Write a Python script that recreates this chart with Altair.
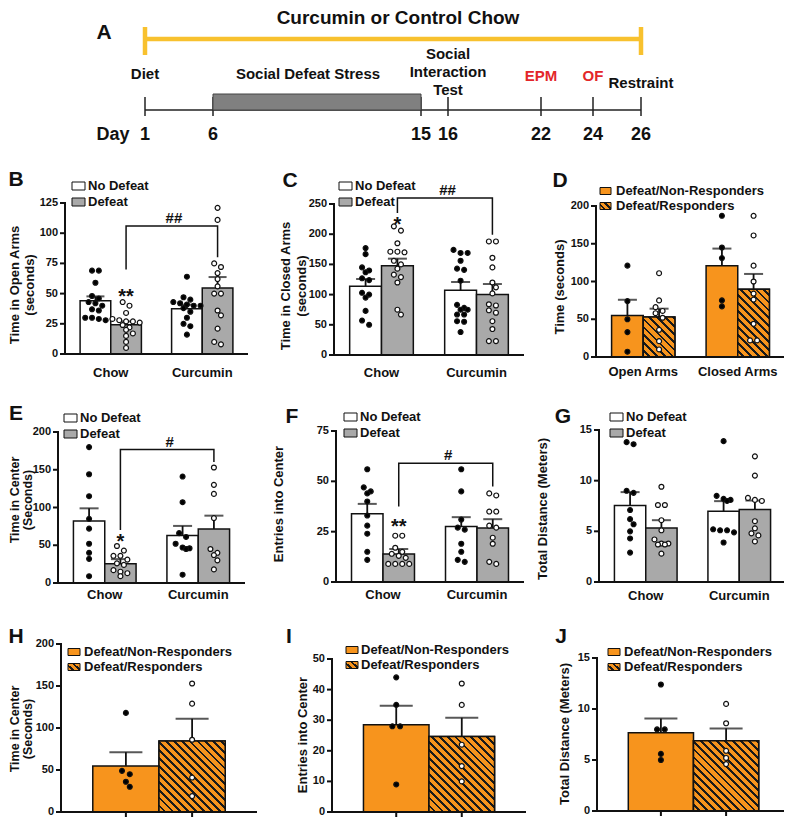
import math
import altair as alt
import pandas as pd

# ---------------------------------------------------------------- layout constants
M = 8                      # page margin: chart px = page px - M
CW, CH = 776, 810
FONT = "Liberation Sans"
INK = "#111111"
ORANGE = "#F7941D"
GREY = "#A9A9A9"
YELLOW = "#F8C12E"
RED = "#E3262A"


def P(v):
    return v - M


# ---------------------------------------------------------------- data
timeline_days = [1, 6, 15, 16, 22, 24, 26]
defeat_start, defeat_end = 6, 15
event_labels = [["Diet"], ["Social Defeat Stress"], ["Social", "Interaction", "Test"],
                ["EPM"], ["OF"], ["Restraint"]]
event_days = [1, 10.5, 16, 22, 24, 26]
event_red = [False, False, False, True, True, False]

diet_groups = ["Chow", "Curcumin"]
stress_groups = ["No Defeat", "Defeat"]
resp_groups = ["Defeat/Non-Responders", "Defeat/Responders"]
arm_groups = ["Open Arms", "Closed Arms"]

# order of series in every grouped panel: group-major (Chow/NoDefeat, Chow/Defeat, Curcumin/NoDefeat, Curcumin/Defeat)
b_means = [44.1, 24.3, 37.5, 54.6]
b_sems = [3.6, 2.7, 3.3, 9.1]
b_pts = [
    [69, 69, 59, 48, 46, 43, 42, 40, 37, 36, 30, 30, 29, 28],
    [43, 40, 34, 29, 28, 27, 27, 26, 24, 22, 20, 17, 15, 10, 5],
    [64, 47, 45, 43, 42, 41, 40, 40, 38, 35, 30, 25, 23, 16],
    [121, 111, 75, 72, 67, 62, 56, 50, 50, 36, 32, 21, 10, 8],
]
c_means = [113.7, 147.9, 107.0, 100.0]
c_sems = [12.1, 11.6, 13.9, 17.5]
c_pts = [
    [177, 167, 145, 140, 137, 127, 124, 103, 100, 95, 73, 57, 50],
    [213, 206, 185, 171, 171, 170, 156, 150, 143, 133, 129, 120, 75, 67],
    [174, 169, 169, 156, 143, 141, 123, 83, 78, 75, 75, 67, 67, 56, 55, 38],
    [188, 188, 161, 145, 120, 112, 102, 84, 82, 74, 70, 56, 43, 23, 23],
]
d_means = [55.0, 52.9, 120.7, 89.9]      # Open/NonResp, Open/Resp, Closed/NonResp, Closed/Resp
d_sems = [20.8, 11.1, 22.9, 20.1]
d_pts = [
    [121, 74, 50, 33, 7],
    [111, 75, 66, 61, 58, 52, 36, 21, 10],
    [187, 145, 131, 75, 67],
    [187, 161, 121, 100, 84, 76, 44, 22, 22],
]
e_means = [82.2, 25.5, 62.9, 71.6]
e_sems = [16.7, 6.1, 12.7, 17.6]
e_pts = [
    [180, 144, 115, 85, 72, 52, 40, 32, 9],
    [49, 43, 36, 36, 31, 26, 24, 17, 15, 13, 9],
    [141, 107, 66, 61, 52, 47, 46, 45, 11],
    [153, 130, 118, 86, 45, 40, 37, 30, 18],
]
f_means = [33.9, 13.9, 27.6, 26.8]
f_sems = [4.9, 2.5, 4.6, 4.4]
f_pts = [
    [56, 47, 45, 44, 40, 33, 28, 24, 15, 11],
    [23, 23, 17, 15, 14, 13, 12, 9, 9, 9, 9],
    [56, 45, 31, 27, 26, 19, 15, 11, 10],
    [44, 43, 35, 35, 28, 27, 22, 19, 10, 9],
]
g_means = [7.55, 5.34, 6.99, 7.15]
g_sems = [1.32, 0.76, 0.99, 0.89]
g_pts = [
    [13.8, 13.6, 9.0, 8.8, 7.1, 6.2, 5.7, 5.0, 4.3, 2.9],
    [9.4, 7.6, 7.6, 6.1, 5.1, 4.2, 3.8, 3.8, 3.7, 3.7, 2.8],
    [13.9, 8.5, 8.2, 8.1, 8.0, 5.2, 5.1, 5.1, 4.9, 3.9],
    [12.4, 10.5, 8.3, 8.1, 8.0, 6.0, 5.3, 4.8, 4.6, 4.0],
]
h_means = [54.9, 84.6]
h_sems = [16.3, 26.4]
h_pts = [[118, 49, 45, 36, 30], [153, 129, 86, 41, 19]]
i_means = [28.5, 24.7]
i_sems = [6.2, 6.1]
i_pts = [[44, 35, 28, 28, 9], [42, 35, 22, 15, 10]]
j_means = [7.67, 6.88]
j_sems = [1.39, 1.22]
j_pts = [[12.4, 8.0, 8.0, 5.6, 5.0], [10.5, 8.6, 5.9, 5.2, 4.6]]

ONE = pd.DataFrame({"z": [0]})


# ---------------------------------------------------------------- helpers
def hatch(W, H, period=5.6, line=2.0, base=ORANGE, ink="#1a1a1a"):
    """45-degree stripes as a linear gradient in bounding-box units."""
    r = H / W
    s = (1 + r) / (1 + r * r)
    L = (W + H) / math.sqrt(2)
    stops = []
    pos = 0.0
    while pos < L - 1e-6:
        a = pos / L
        b = min((pos + period - line) / L, 1.0)
        c = min((pos + period) / L, 1.0)
        stops += [{"offset": round(a, 4), "color": base}, {"offset": round(b, 4), "color": base}]
        if b < 1.0:
            stops += [{"offset": round(b, 4), "color": ink}, {"offset": round(c, 4), "color": ink}]
        pos += period
    return {"gradient": "linear", "x1": 0, "y1": 1, "x2": round(s, 4), "y2": round(1 - s * r, 4),
            "stops": stops}


def swarm(vals, ppu, lim, d=5.5):
    order = sorted(range(len(vals)), key=lambda i: -vals[i])
    rows = []
    for i in order:
        y = vals[i] * ppu
        if rows and rows[-1][0] - y < d * 0.85 and len(rows[-1][1]) < 5:
            rows[-1][1].append(i)
        else:
            rows.append([y, [i]])
    out = [0] * len(vals)
    prev = None
    for y, idx in rows:
        n = len(idx)
        par = (n - 1) % 2
        shift = 0
        if prev is not None and prev[0] - y < d and prev[1] == par and n < 5:
            shift = 1
            par ^= 1
        for k, i in enumerate(idx):
            out[i] = max(-lim, min(lim, 2 * k - (n - 1) + shift))
        prev = (y, par)
    return out


def label(txt, x, y, size, color=INK, align="center", baseline="middle", angle=0, lh=None):
    kw = dict(text=txt, font=FONT, fontSize=size, fontWeight="bold", color=color,
              align=align, baseline=baseline)
    if angle:
        kw["angle"] = angle
    if lh:
        kw["lineHeight"] = lh
    return alt.Chart(ONE).mark_text(**kw).encode(x=alt.value(P(x)), y=alt.value(P(y)))


def legend(items, sq_x, w, h, ys, tx):
    out = []
    for (name, fill), y in zip(items, ys):
        out.append(alt.Chart(ONE).mark_rect(fill=fill, stroke=INK, strokeWidth=1).encode(
            x=alt.value(P(sq_x)), x2=alt.value(P(sq_x + w)),
            y=alt.value(P(y - h / 2)), y2=alt.value(P(y + h / 2))))
        out.append(label(name, tx, y, 13, align="left"))
    return out


def axis_layers(x0, x1, y0, yt, ys, yticks):
    """Axis lines, y ticks and y tick labels drawn through the panel's y scale."""
    tdf = pd.DataFrame({"t": yticks, "lab": [str(t) for t in yticks]})
    return [
        alt.Chart(ONE).mark_rule(color=INK, strokeWidth=2).encode(
            x=alt.value(x0), y=alt.value(y0 + 1), y2=alt.value(yt - 1)),
        alt.Chart(ONE).mark_rule(color=INK, strokeWidth=2).encode(
            x=alt.value(x0 - 1), x2=alt.value(x1), y=alt.value(y0)),
        alt.Chart(tdf).mark_rule(color=INK, strokeWidth=2).encode(
            x=alt.value(x0 - 5), x2=alt.value(x0), y=alt.Y("t:Q", scale=ys, axis=None)),
        alt.Chart(tdf).mark_text(font=FONT, fontSize=11, fontWeight="bold", color=INK, align="right",
                                 baseline="middle").encode(
            x=alt.value(x0 - 7), y=alt.Y("t:Q", scale=ys, axis=None), text="lab:N"),
    ]


def grouped_panel(groups, subs, means, sems, pts, bar_fills, pt_fills, hatch_sub, ymax, yticks, box,
                  lab_dy, stars=(), bracket=None, pi=0.33, po=0.165):
    x0, x1, y0, yt = P(box[0]), P(box[1]), P(box[2]), P(box[3])
    ng, ns = len(groups), len(subs)
    step = (x1 - x0) / (ng - pi + 2 * po)
    barw = step * (1 - pi) / ns
    ppu = (y0 - yt) / ymax
    xs = alt.Scale(domain=groups, range=[x0, x1], paddingInner=pi, paddingOuter=po)
    ys = alt.Scale(domain=[0, ymax], range=[y0, yt], nice=False, zero=False)
    offs = alt.Scale(domain=subs, paddingInner=0, paddingOuter=0)

    def X():
        return alt.X("g:N", scale=xs, axis=None)

    def Y(f):
        return alt.Y(f, scale=ys, axis=None, stack=None)

    XO = alt.XOffset("s:N", scale=offs)
    rows = []
    for gi, g in enumerate(groups):
        for si, s in enumerate(subs):
            k = gi * ns + si
            rows.append(dict(g=g, s=s, v=means[k], top=round(means[k] + sems[k], 3), f=bar_fills[si]))
    bdf = pd.DataFrame(rows)
    layers = [alt.Chart(bdf).mark_bar(stroke=INK, strokeWidth=1.5).encode(
        x=X(), xOffset=XO, y=Y("v:Q"), fill=alt.Fill("f:N", scale=None))]
    for r in rows:
        if r["s"] == hatch_sub:
            layers.append(alt.Chart(pd.DataFrame([r])).mark_bar(
                fill=hatch(barw, r["v"] * ppu), stroke=INK, strokeWidth=1.5).encode(
                x=X(), xOffset=XO, y=Y("v:Q")))
    layers += axis_layers(x0, x1, y0, yt, ys, yticks)
    layers.append(alt.Chart(pd.DataFrame({"g": groups})).mark_text(
        font=FONT, fontSize=13, fontWeight="bold", color=INK, baseline="middle").encode(
        x=X(), y=alt.value(y0 + lab_dy), text="g:N"))
    layers.append(alt.Chart(bdf).mark_rule(color=INK, strokeWidth=1.8).encode(
        x=X(), xOffset=XO, y=Y("v:Q"), y2="top:Q"))
    layers.append(alt.Chart(bdf).mark_tick(color=INK, thickness=2, size=round(0.6 * barw),
                                           orient="horizontal").encode(
        x=X(), xOffset=XO, y=Y("top:Q")))
    if stars:
        sdf = pd.DataFrame([dict(g=g, s=s, v=v, t=t) for g, s, v, t in stars])
        layers.append(alt.Chart(sdf).mark_text(font=FONT, fontSize=20, fontWeight="bold", color=INK,
                                               baseline="alphabetic", dy=11).encode(
            x=X(), xOffset=XO, y=Y("v:Q"), text="t:N"))
    if bracket:
        lb, top, rb, txt = bracket
        brdf = pd.DataFrame(dict(g=[groups[0], groups[0], groups[1], groups[1]], s=[subs[1]] * 4,
                                 v=[lb, top, top, rb], k=[0, 1, 2, 3]))
        layers.append(alt.Chart(brdf).mark_line(color=INK, strokeWidth=1.5).encode(
            x=X(), xOffset=XO, y=Y("v:Q"), order="k:Q"))
        hdf = pd.DataFrame(dict(g=[groups[1]], s=[subs[0]], v=[top], t=[txt]))
        layers.append(alt.Chart(hdf).mark_text(font=FONT, fontSize=15, fontWeight="bold", color=INK,
                                               baseline="alphabetic", dy=-3, dx=-13).encode(
            x=X(), xOffset=XO, y=Y("v:Q"), text="t:N"))
    keys = [f"{s}|{k}" for s in subs for k in range(-4, 5)]
    prow = []
    for gi, g in enumerate(groups):
        for si, s in enumerate(subs):
            vals = pts[gi * ns + si]
            for v, o in zip(vals, swarm(vals, ppu, 4)):
                prow.append(dict(g=g, v=v, key=f"{s}|{o}", pf=pt_fills[si]))
    pdf = pd.DataFrame(prow)
    pts_layer = alt.Chart(pdf).mark_point(shape="circle", filled=True, size=24, stroke=INK,
                                          strokeWidth=1.2, opacity=1).encode(
        x=X(), xOffset=alt.XOffset("key:N", scale=alt.Scale(type="point", domain=keys, padding=0.5)),
        y=Y("v:Q"), fill=alt.Fill("pf:N", scale=None))
    return alt.layer(alt.layer(*layers), pts_layer).resolve_scale(xOffset="independent")


def single_panel(subs, means, sems, pts, bar_fills, pt_fills, hatch_sub, ymax, yticks, box, po=0.48):
    x0, x1, y0, yt = P(box[0]), P(box[1]), P(box[2]), P(box[3])
    n = len(subs)
    barw = (x1 - x0) / (n + 2 * po)
    ppu = (y0 - yt) / ymax
    xs = alt.Scale(domain=subs, range=[x0, x1], paddingInner=0, paddingOuter=po)
    ys = alt.Scale(domain=[0, ymax], range=[y0, yt], nice=False, zero=False)

    def X():
        return alt.X("s:N", scale=xs, axis=None)

    def Y(f):
        return alt.Y(f, scale=ys, axis=None, stack=None)

    rows = [dict(s=s, v=means[i], top=round(means[i] + sems[i], 3), f=bar_fills[i])
            for i, s in enumerate(subs)]
    bdf = pd.DataFrame(rows)
    layers = [alt.Chart(bdf).mark_bar(stroke=INK, strokeWidth=1.5).encode(
        x=X(), y=Y("v:Q"), fill=alt.Fill("f:N", scale=None))]
    for r in rows:
        if r["s"] == hatch_sub:
            layers.append(alt.Chart(pd.DataFrame([r])).mark_bar(
                fill=hatch(barw, r["v"] * ppu), stroke=INK, strokeWidth=1.5).encode(x=X(), y=Y("v:Q")))
    layers += axis_layers(x0, x1, y0, yt, ys, yticks)
    layers.append(alt.Chart(pd.DataFrame({"s": subs})).mark_rule(color=INK, strokeWidth=2).encode(
        x=X(), y=alt.value(y0), y2=alt.value(y0 + 5)))
    layers.append(alt.Chart(bdf).mark_rule(color=INK, strokeWidth=1.8).encode(
        x=X(), y=Y("v:Q"), y2="top:Q"))
    layers.append(alt.Chart(bdf).mark_tick(color=INK, thickness=2, size=round(0.5 * barw),
                                           orient="horizontal").encode(x=X(), y=Y("top:Q")))
    keys = [str(k) for k in range(-8, 9)]
    prow = []
    for i, s in enumerate(subs):
        for v, o in zip(pts[i], swarm(pts[i], ppu, 8)):
            prow.append(dict(s=s, v=v, key=str(o), pf=pt_fills[i]))
    pts_layer = alt.Chart(pd.DataFrame(prow)).mark_point(shape="circle", filled=True, size=24,
                                                         stroke=INK, strokeWidth=1.2, opacity=1).encode(
        x=X(), xOffset=alt.XOffset("key:N", scale=alt.Scale(type="point", domain=keys, padding=0.5)),
        y=Y("v:Q"), fill=alt.Fill("pf:N", scale=None))
    return alt.layer(alt.layer(*layers), pts_layer).resolve_scale(xOffset="independent")


# ---------------------------------------------------------------- panel A (timeline)
tl_scale = alt.Scale(domain=timeline_days, range=[P(v) for v in [145, 213, 421, 448, 541, 593, 641]],
                     zero=False, nice=False)


def TX(f):
    return alt.X(f, scale=tl_scale, axis=None)


span_df = pd.DataFrame({"a": [timeline_days[0]], "b": [timeline_days[-1]]})
ends_df = pd.DataFrame({"day": [timeline_days[0], timeline_days[-1]]})
day_df = pd.DataFrame({"day": timeline_days, "lab": [str(d) for d in timeline_days]})
defeat_df = pd.DataFrame({"a": [defeat_start], "b": [defeat_end]})

timeline = [
    alt.Chart(span_df).mark_rule(color=YELLOW, strokeWidth=4.5).encode(x=TX("a:Q"), x2="b:Q",
                                                                      y=alt.value(P(39))),
    alt.Chart(ends_df).mark_rule(color=YELLOW, strokeWidth=4.5).encode(x=TX("day:Q"), y=alt.value(P(27)),
                                                                      y2=alt.value(P(55))),
    alt.Chart(span_df).mark_rule(color="#222222", strokeWidth=1.5).encode(x=TX("a:Q"), x2="b:Q",
                                                                         y=alt.value(P(110))),
    alt.Chart(day_df).mark_rule(color="#222222", strokeWidth=1.5).encode(x=TX("day:Q"), y=alt.value(P(97)),
                                                                        y2=alt.value(P(116))),
    alt.Chart(defeat_df).mark_rect(fill="#808080", stroke="#444444", strokeWidth=1).encode(
        x=TX("a:Q"), x2="b:Q", y=alt.value(P(94)), y2=alt.value(P(110))),
    alt.Chart(day_df).mark_text(font=FONT, fontSize=18, fontWeight="bold", color=INK,
                                baseline="middle").encode(x=TX("day:Q"), y=alt.value(P(135)), text="lab:N"),
]
event_y = [74, 74, 54, 76, 76, 83]        # first-line centres
event_dx = [0, -9, 0, 0, 0, 0]
for lab, dday, red, ey, edx in zip(event_labels, event_days, event_red, event_y, event_dx):
    txt = lab if len(lab) > 1 else lab[0]
    timeline.append(alt.Chart(pd.DataFrame({"day": [dday]})).mark_text(
        text=txt, font=FONT, fontSize=15, fontWeight="bold", color=RED if red else INK,
        baseline="middle", lineHeight=18, dx=edx).encode(x=TX("day:Q"), y=alt.value(P(ey))))

decor = [
    label("Curcumin or Control Chow", 398, 18, 19),
    label("Day", 113, 135, 18),
    label("A", 104, 33, 21),
    label("B", 16, 180, 21), label("C", 290, 181, 21), label("D", 560, 181, 21),
    label("E", 16, 414, 21), label("F", 292, 417, 21), label("G", 563, 417, 21),
    label("H", 16, 637, 21), label("I", 289, 637, 21), label("J", 561, 637, 21),
    # y-axis titles (x = first line)
    label(["Time in Open Arms", "(seconds)"], 15, 285, 13, angle=270, lh=15),
    label(["Time in Closed Arms", "(seconds)"], 286, 286, 13, angle=270, lh=16),
    label("Time (seconds)", 560, 287, 13, angle=270),
    label(["Time in Center", "(Seconds)"], 15, 500, 12.5, angle=270, lh=12.5),
    label("Entries into Center", 279, 504, 13, angle=270),
    label("Total Distance (Meters)", 543, 509, 13, angle=270),
    label(["Time in Center", "(Seconds)"], 15, 729, 12.5, angle=270, lh=12.5),
    label("Entries into Center", 303, 735, 13, angle=270),
    label("Total Distance (Meters)", 565, 734, 13, angle=270),
]

stress_items = [(stress_groups[0], "white"), (stress_groups[1], GREY)]
resp_items = [(resp_groups[0], ORANGE), (resp_groups[1], hatch(11, 7, period=4.5, line=1.6))]
legends = (legend(stress_items, 72, 13, 8, [186, 202], 88)
           + legend(stress_items, 339, 13, 8, [186, 202], 355)
           + legend(resp_items, 600, 11, 7, [191, 206], 616)
           + legend(stress_items, 64, 13, 8, [418, 434], 80)
           + legend(stress_items, 344, 13, 8, [417, 433], 360)
           + legend(stress_items, 610, 13, 8, [417, 433], 626)
           + legend(resp_items, 68, 12, 7, [652, 667], 84)
           + legend(resp_items, 346, 12, 7, [650, 665], 361)
           + legend(resp_items, 608, 12, 7, [652, 667], 624))

SF = ["white", GREY]
RF = [ORANGE, ORANGE]
PF = ["black", "white"]
panels = [
    grouped_panel(diet_groups, stress_groups, b_means, b_sems, b_pts, SF, PF, None, 125,
                  [0, 25, 50, 75, 100, 125], (65, 248, 354, 203), 19,
                  stars=[("Chow", "Defeat", 51.7, "**")], bracket=(70, 106, 80, "##")),
    grouped_panel(diet_groups, stress_groups, c_means, c_sems, c_pts, SF, PF, None, 250,
                  [0, 50, 100, 150, 200, 250], (334, 524, 355, 204), 18,
                  stars=[("Chow", "Defeat", 224, "*")], bracket=(235, 260, 199, "##")),
    grouped_panel(arm_groups, resp_groups, d_means, d_sems, d_pts, RF, PF, resp_groups[1], 200,
                  [0, 50, 100, 150, 200], (596, 785, 357, 206), 15),
    grouped_panel(diet_groups, stress_groups, e_means, e_sems, e_pts, SF, PF, None, 200,
                  [0, 50, 100, 150, 200], (58, 245, 583, 432), 12,
                  stars=[("Chow", "Defeat", 61, "*")], bracket=(70.3, 176.7, 160.4, "#")),
    grouped_panel(diet_groups, stress_groups, f_means, f_sems, f_pts, SF, PF, None, 75,
                  [0, 25, 50, 75], (336, 524, 582, 431), 13,
                  stars=[("Chow", "Defeat", 30, "**")], bracket=(37.5, 59, 47.4, "#")),
    grouped_panel(diet_groups, stress_groups, g_means, g_sems, g_pts, SF, PF, None, 15,
                  [0, 5, 10, 15], (599, 786, 582, 430), 14),
    single_panel(resp_groups, h_means, h_sems, h_pts, RF, PF, resp_groups[1], 200,
                 [0, 50, 100, 150, 200], (61, 257, 812, 644)),
    single_panel(resp_groups, i_means, i_sems, i_pts, RF, PF, resp_groups[1], 50,
                 [0, 10, 20, 30, 40, 50], (332, 526, 812, 659)),
    single_panel(resp_groups, j_means, j_sems, j_pts, RF, PF, resp_groups[1], 15,
                 [0, 5, 10, 15], (597, 790, 811, 658)),
]

chart = alt.layer(*timeline, *panels, *decor, *legends).resolve_scale(
    x="independent", y="independent", xOffset="independent"
).properties(
    width=CW, height=CH, autosize=alt.AutoSizeParams(type="none"), padding=0
).configure_view(strokeWidth=0)

chart.save("out.html", embed_options={"renderer": "svg", "actions": False})
